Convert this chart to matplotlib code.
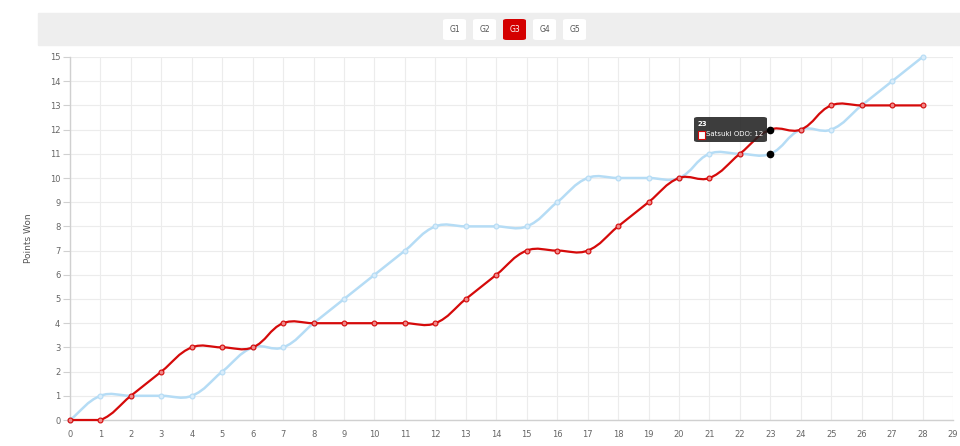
import numpy as np
import matplotlib
matplotlib.use("Agg")
import matplotlib.pyplot as plt
from matplotlib.path import Path
from matplotlib.patches import PathPatch, FancyBboxPatch, Rectangle

games = list(range(29))
blue_pts = [0, 1, 1, 1, 1, 2, 3, 3, 4, 5, 6, 7, 8, 8, 8, 8, 9, 10, 10, 10, 10, 11, 11, 11, 12, 12, 13, 14, 15]
red_pts = [0, 0, 1, 2, 3, 3, 3, 4, 4, 4, 4, 4, 4, 5, 6, 7, 7, 7, 8, 9, 10, 10, 11, 12, 12, 13, 13, 13, 13]
buttons = ["G1", "G2", "G3", "G4", "G5"]
active_button = "G3"
tip_x = 23
tip_title = "23"
tip_label = "Satsuki ODO: 12"

BLUE = "#b5dcf5"
RED = "#d50a0a"
SX, SY = 30.46, 24.2  # px per unit, used for spline tension like chart.js
YMIN, YMAX = 0, 15


def spline_path(xs, ys, tension=0.4):
    xs = np.asarray(xs, float)
    ys = np.asarray(ys, float)
    n = len(xs)
    verts = [(xs[0], ys[0])]
    codes = [Path.MOVETO]
    cps = []
    sc = np.array([SX, SY])
    for i in range(n):
        p = np.array([xs[max(i - 1, 0)], ys[max(i - 1, 0)]])
        c = np.array([xs[i], ys[i]])
        nx = np.array([xs[min(i + 1, n - 1)], ys[min(i + 1, n - 1)]])
        d01 = np.linalg.norm((c - p) * sc)
        d12 = np.linalg.norm((nx - c) * sc)
        tot = d01 + d12
        s01 = d01 / tot if tot else 0
        s12 = d12 / tot if tot else 0
        prev_cp = c - tension * s01 * (nx - p)
        next_cp = c + tension * s12 * (nx - p)
        # keep control points inside the chart area
        prev_cp[1] = min(max(prev_cp[1], YMIN), YMAX)
        next_cp[1] = min(max(next_cp[1], YMIN), YMAX)
        cps.append((prev_cp, next_cp))
    for i in range(1, n):
        verts += [tuple(cps[i - 1][1]), tuple(cps[i][0]), (xs[i], ys[i])]
        codes += [Path.CURVE4] * 3
    return Path(verts, codes)


fig = plt.figure(figsize=(9.6, 4.46), dpi=100)
W, H = 960, 446

# top toolbar band
fig.patches.append(Rectangle((38 / W, 1 - 45 / H), (960 - 38) / W, 32 / H,
                             transform=fig.transFigure, color="#eeeeee", zorder=0))
bx = [443, 473, 503, 533, 563]
for name, x0 in zip(buttons, bx):
    act = name == active_button
    fig.patches.append(FancyBboxPatch((x0 / W, 1 - 40 / H), 23 / W, 21 / H,
                                      boxstyle="round,pad=0,rounding_size=0.004",
                                      transform=fig.transFigure,
                                      fc="#d40000" if act else "white", ec="none", zorder=1))
    fig.text((x0 + 11.5) / W, 1 - 29.5 / H, name, ha="center", va="center",
             fontsize=5.5, color="white" if act else "#555555", zorder=2)

ax = fig.add_axes([70 / W, 1 - 420 / H, (953 - 70) / W, (420 - 57) / H])
ax.set_xlim(0, 29)
ax.set_ylim(YMIN, YMAX)
ax.set_xticks(range(30))
ax.set_yticks(range(16))
ax.grid(color="#ececec", lw=0.8)
ax.set_axisbelow(True)
for s in ["top", "right"]:
    ax.spines[s].set_visible(False)
for s in ["left", "bottom"]:
    ax.spines[s].set_color("#d0d0d0")
    ax.spines[s].set_linewidth(1)
ax.tick_params(axis="both", labelsize=6, colors="#666666", length=4, width=0.8)
ax.tick_params(axis="x", length=0, pad=7)
ax.tick_params(axis="y", color="#d0d0d0", length=5, pad=2)
ax.set_ylabel("Points Won", fontsize=6.5, color="#555555", labelpad=12)

ax.add_patch(PathPatch(spline_path(games, blue_pts), fc="none", ec=BLUE, lw=1.8, zorder=3, clip_on=False))
ax.plot(games, blue_pts, "o", ms=3.5, mfc="#d8ecfa", mec=BLUE, mew=0.8, zorder=4, clip_on=False)
ax.add_patch(PathPatch(spline_path(games, red_pts), fc="none", ec=RED, lw=1.6, zorder=5, clip_on=False))
ax.plot(games, red_pts, "o", ms=3.5, mfc="#f08888", mec=RED, mew=0.8, zorder=6, clip_on=False)

# hover points
ax.plot([tip_x, tip_x], [red_pts[tip_x], blue_pts[tip_x]], "o", ms=4.5, color="black",
        ls="none", zorder=7)

# tooltip
fig.patches.append(FancyBboxPatch((694 / W, 1 - 142 / H), 73 / W, 25 / H,
                                  boxstyle="round,pad=0,rounding_size=0.004",
                                  transform=fig.transFigure, fc="#222222", alpha=0.88,
                                  ec="none", zorder=10))
fig.text(698 / W, 1 - 123.5 / H, tip_title, fontsize=5, color="white", weight="bold",
         va="center", zorder=11)
fig.patches.append(Rectangle((698 / W, 1 - 138.5 / H), 7 / W, 7 / H, transform=fig.transFigure,
                             fc="white", ec=RED, lw=0.8, zorder=11))
fig.text(706.5 / W, 1 - 134.5 / H, tip_label, fontsize=5, color="white", va="center", zorder=11)

fig.savefig("out.png", dpi=100)
